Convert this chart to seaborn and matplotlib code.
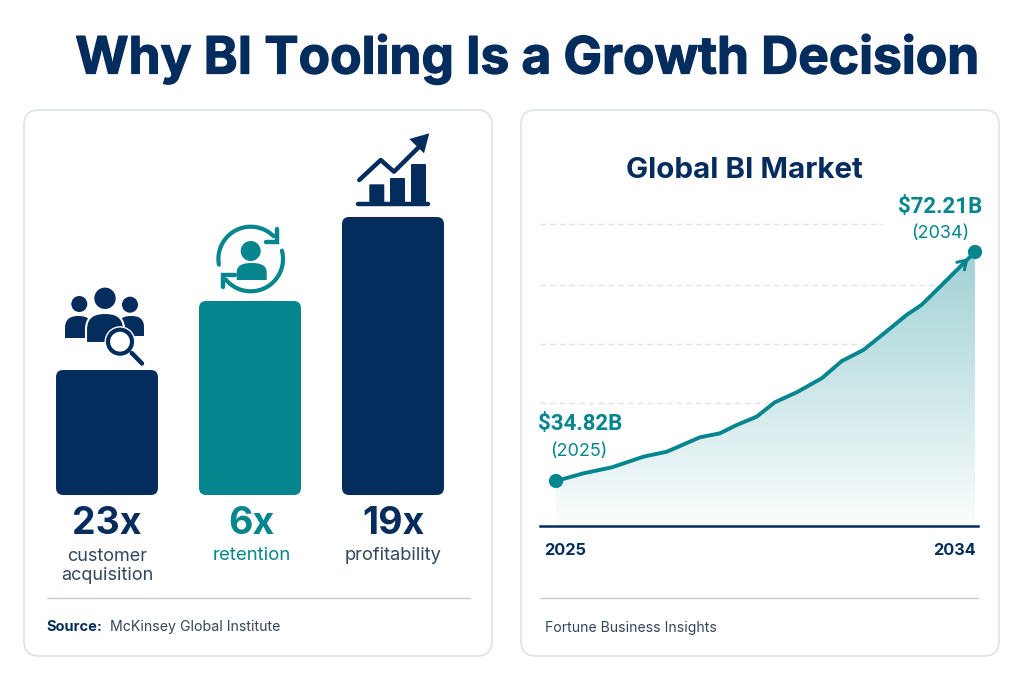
import numpy as np
import matplotlib
matplotlib.use("Agg")
import matplotlib.pyplot as plt
import matplotlib.patheffects as pe
import seaborn as sns
from matplotlib.patches import FancyBboxPatch, Circle, Polygon, PathPatch
from matplotlib.path import Path
from matplotlib.transforms import ScaledTranslation

# ---------- data ----------
title = "Why BI Tooling Is a Growth Decision"
categories = ["customer\nacquisition", "retention", "profitability"]
multipliers = ["23x", "6x", "19x"]
bar_heights = [125, 194, 278]          # drawn height of each bar, as pictured
years = [2025, 2025.59, 2026.2, 2026.88, 2027.38, 2028.09, 2028.52, 2028.88, 2029.31, 2029.7,
         2030.17, 2030.71, 2031.14, 2031.6, 2032.03, 2032.53, 2032.85, 2033.25, 2034]
market = [34.82, 36.07, 37.05, 38.79, 39.6, 41.95, 42.6, 43.96, 45.32, 47.67,
          49.3, 51.6, 54.41, 56.2, 58.82, 61.93, 63.56, 66.55, 72.21]
grid_values = [76.73, 66.82, 57.19, 47.5]
grid_ends = [2032.02, 2034, 2034, 2034]
year_ticks = [2025, 2034]

NAVY = "#042C5C"
TEAL = "#05868E"
GRAY = "#33475B"
FONT = "Inter"

sns.set_theme(style="white")
plt.rcParams["font.family"] = [FONT, "DejaVu Sans"]

W, H = 1024, 683
fig = plt.figure(figsize=(W / 100, H / 100), dpi=100, facecolor="white")


def px_axes(x0, y_top, x1, y_bot, z=1):
    return fig.add_axes([x0 / W, 1 - y_bot / H, (x1 - x0) / W, (y_bot - y_top) / H], zorder=z)


# ---------- page overlay in pixel coordinates ----------
pg = fig.add_axes([0, 0, 1, 1], zorder=0)
pg.set_xlim(0, W)
pg.set_ylim(H, 0)
pg.axis("off")

for (x0, x1) in [(24, 492), (521, 999)]:
    pg.add_patch(FancyBboxPatch((x0, 110), x1 - x0, 546, boxstyle="round,pad=0,rounding_size=15",
                                fc="white", ec="#DEE3EA", lw=1.2))

pg.text(526.5, 59, title, ha="center", va="center", fontsize=37, fontweight="bold", color=NAVY,
        path_effects=[pe.withStroke(linewidth=0.9, foreground=NAVY)])

pg.plot([47, 470], [598, 598], color="#C5CDD8", lw=1)
pg.plot([540, 978], [598, 598], color="#C5CDD8", lw=1)
pg.text(46, 627, "Source:", ha="left", va="center", fontsize=10.5, fontweight="bold", color=NAVY)
pg.text(110, 627, "McKinsey Global Institute", ha="left", va="center", fontsize=10.2, color=GRAY)
pg.text(545, 628, "Fortune Business Insights", ha="left", va="center", fontsize=10.1, color=GRAY)
pg.text(744.5, 170, "Global BI Market", ha="center", va="center", fontsize=21.3, fontweight="bold", color=NAVY)


def body(x0, x1, ytop, ybot, fc, z=3, ec="none", lw=0):
    w = x1 - x0
    verts = [(x0, ybot), (x0, ytop + 0.55 * (ybot - ytop)),
             (x0, ytop + 0.05 * (ybot - ytop)), (x0 + 0.3 * w, ytop), (x0 + 0.5 * w, ytop),
             (x0 + 0.7 * w, ytop), (x1, ytop + 0.05 * (ybot - ytop)), (x1, ytop + 0.55 * (ybot - ytop)),
             (x1, ybot), (x0, ybot)]
    codes = [Path.MOVETO, Path.LINETO, Path.CURVE4, Path.CURVE4, Path.CURVE4,
             Path.CURVE4, Path.CURVE4, Path.CURVE4, Path.LINETO, Path.CLOSEPOLY]
    pg.add_patch(PathPatch(Path(verts, codes), fc=fc, ec=ec, lw=lw, zorder=z, joinstyle="round"))


# people + magnifier
pg.add_patch(Circle((79.3, 304), 8, fc=NAVY, ec="none", zorder=3))
pg.add_patch(Circle((130, 304.7), 8, fc=NAVY, ec="none", zorder=3))
body(65, 92, 316, 338, NAVY)
body(118, 144, 316, 336, NAVY)
pg.add_patch(Circle((105, 298.3), 10.7, fc=NAVY, ec="none", zorder=4))
body(86, 124, 313, 343, NAVY, z=4, ec="white", lw=1.5)
pg.add_patch(Circle((120, 341.7), 15.5, fc="white", ec="none", zorder=5))
pg.add_patch(Circle((120, 341.7), 12, fc="white", ec=NAVY, lw=3, zorder=6))
pg.plot([131.7, 142], [353, 363.5], color=NAVY, lw=3.2, solid_capstyle="round", zorder=6)

# retention loop
cx, cy, r = 250.7, 259, 32.3
for a0, a1 in [(190, 45), (15, -140)]:
    t = np.radians(np.linspace(a0, a1, 60))
    pg.plot(cx + r * np.cos(t), cy - r * np.sin(t), color=TEAL, lw=3, solid_capstyle="round", zorder=3)
pg.plot([277.3, 277.3, 266], [229, 241.7, 241.7], color=TEAL, lw=3.2, solid_joinstyle="miter", zorder=3)
pg.plot([222.7, 222.7, 235], [287, 275, 275], color=TEAL, lw=3.2, solid_joinstyle="miter", zorder=3)
pg.add_patch(Circle((250.7, 251), 10, fc=TEAL, ec="none", zorder=3))
body(236.7, 266.7, 263, 280, TEAL)

# growth chart icon
for x0, x1, yt in [(369.3, 384.3, 184.3), (390, 405, 178), (411, 426, 164)]:
    pg.add_patch(FancyBboxPatch((x0, yt), x1 - x0, 203 - yt, boxstyle="round,pad=0,rounding_size=1",
                                fc=NAVY, ec="none", zorder=3))
pg.plot([358, 428], [204.3, 204.3], color=NAVY, lw=3.2, solid_capstyle="round", zorder=3)
pg.plot([359.3, 380.7, 394, 420], [180, 160, 171.7, 146], color=NAVY, lw=3.2,
        solid_capstyle="round", solid_joinstyle="round", zorder=3)
pg.add_patch(Polygon([(429.3, 133.3), (409.3, 139), (424, 153.3)], closed=True, fc=NAVY, ec="none", zorder=3))

# ---------- bar chart ----------
ax = px_axes(35.5, 125, 464.5, 495)
ax.patch.set_alpha(0)
sns.barplot(x=categories, y=bar_heights, hue=categories, palette=[NAVY, TEAL, NAVY],
            width=0.713, saturation=1, legend=False, ax=ax)
ax.set_xlim(-0.5, 2.5)
ax.set_ylim(0, 370)
for bar in list(ax.patches):
    x, w, h = bar.get_x(), bar.get_width(), bar.get_height()
    col = bar.get_facecolor()
    bar.set_visible(False)
    ax.add_patch(FancyBboxPatch((x, 0), w, h, boxstyle="round,pad=0,rounding_size=0.05",
                                mutation_aspect=143, fc=col, ec="none"))
ax.set_yticks([])
ax.set_xticks([])
ax.set_xlabel("")
ax.set_ylabel("")
sns.despine(ax=ax, left=True, bottom=True)

ctr = [107, 251.5, 393]
label_cols = [GRAY, TEAL, GRAY]
num_cols = [NAVY, TEAL, NAVY]
label_y = [566, 555, 555]
label_sz = [13, 13.4, 13.2]
for c, m, cat, lc, nc, ly, sz in zip(ctr, multipliers, categories, label_cols, num_cols, label_y, label_sz):
    pg.text(c, 524, m, ha="center", va="center", fontsize=27, fontweight="bold", color=nc)
    pg.text(c, ly, cat, ha="center", va="center", fontsize=sz, color=lc, linespacing=1.15)

# ---------- area chart ----------
ay = px_axes(540, 190, 978, 526)
ay.patch.set_alpha(0)
x_lim = (2024.656, 2034.064)
y_lim = (27.47, 82.33)
ay.hlines(grid_values, x_lim[0], grid_ends, colors="#E2E2EE", linestyles=(0, (4, 3)), lw=1, zorder=1)

poly = ay.fill_between(years, market, y_lim[0], facecolor="none", edgecolor="none", zorder=2)
teal_rgb = np.array(matplotlib.colors.to_rgb(TEAL))
alpha = np.linspace(0.38, 0.015, 256)[:, None, None]
grad = (1 - alpha) + alpha * teal_rgb.reshape(1, 1, 3)
im = ay.imshow(grad, extent=[years[0], years[-1], y_lim[0], market[-1]], aspect="auto",
               origin="upper", zorder=2)
im.set_clip_path(poly.get_paths()[0], ay.transData)

sns.lineplot(x=years, y=market, sort=False, estimator=None, color=TEAL, lw=2.8, ax=ay, zorder=3)
ay.annotate("", xy=(years[-1] - 0.14, market[-1] - 1.0), xytext=(years[-2], market[-2]),
            arrowprops=dict(arrowstyle="->,head_length=0.5,head_width=0.32", color=TEAL, lw=2.2,
                            shrinkA=0, shrinkB=0), zorder=3)
ay.scatter([years[0], years[-1]], [market[0], market[-1]], s=105, color=TEAL, edgecolor="none",
           zorder=4, clip_on=False)
ay.set_xlim(*x_lim)
ay.set_ylim(*y_lim)
ay.set_yticks([])
ay.set_xticks(year_ticks)
ay.set_xticklabels([str(y) for y in year_ticks], fontsize=11.8, fontweight="bold", color=NAVY)
ay.tick_params(axis="x", length=0, pad=12)
for lab, dx in zip(ay.get_xticklabels(), [9, -21]):
    lab.set_transform(lab.get_transform() + ScaledTranslation(dx / 100, 0, fig.dpi_scale_trans))
ay.set_xlabel("")
ay.set_ylabel("")
for s in ["top", "left", "right"]:
    ay.spines[s].set_visible(False)
ay.spines["bottom"].set_color(NAVY)
ay.spines["bottom"].set_linewidth(1.8)

for xc, yc, txt in [(940, 207, "$72.21B"), (580.5, 424, "$34.82B")]:
    pg.text(xc, yc, txt, ha="center", va="center", fontsize=16, fontweight="bold", color=TEAL,
            family=["Roboto", "DejaVu Sans"])
pg.text(940, 233, "(2034)", ha="center", va="center", fontsize=13, color=TEAL)
pg.text(579, 451, "(2025)", ha="center", va="center", fontsize=13, color=TEAL)

fig.savefig("out.png", dpi=100, facecolor="white")
